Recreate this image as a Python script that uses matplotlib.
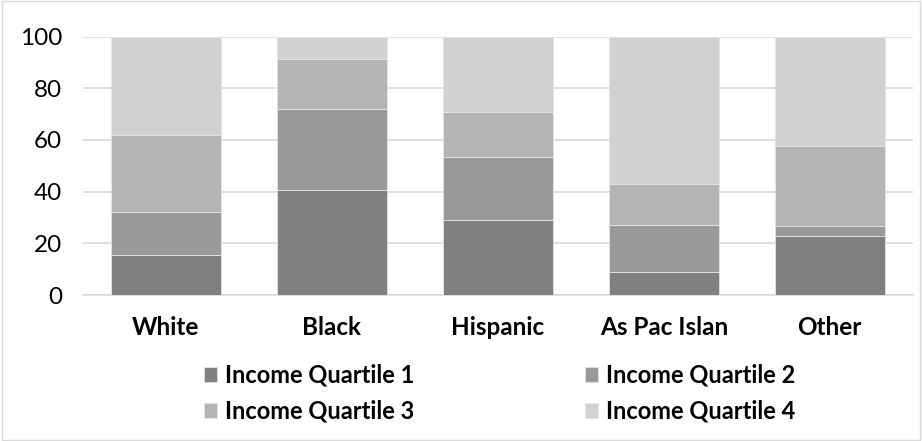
import matplotlib
matplotlib.use("Agg")
import matplotlib.pyplot as plt
import numpy as np

categories = ["White", "Black", "Hispanic", "As Pac Islan", "Other"]
series_names = ["Income Quartile 1", "Income Quartile 2", "Income Quartile 3", "Income Quartile 4"]
q1 = [15.5, 40.6, 29.0, 8.9, 22.8]
q2 = [16.8, 31.3, 24.5, 18.2, 3.9]
q3 = [29.6, 19.6, 17.5, 15.9, 31.0]
q4 = [38.1, 8.5, 29.0, 57.0, 42.3]
yticks = [0, 20, 40, 60, 80, 100]

colors = ["#808080", "#999999", "#b4b4b4", "#d1d1d1"]

plt.rcParams["font.family"] = ["Lato", "DejaVu Sans"]

fig = plt.figure(figsize=(9.22, 4.41), dpi=100)
fig.patch.set_facecolor("white")
ax = fig.add_axes([0.09, 0.331, 0.90, 0.586])

x = np.arange(len(categories))
bottom = np.zeros(len(categories))
handles = []
for vals, name, c in zip([q1, q2, q3, q4], series_names, colors):
    h = ax.bar(x, vals, width=0.66, bottom=bottom, color=c, edgecolor="#e4e4e4",
               linewidth=0.6, label=name, zorder=3)
    handles.append(h)
    bottom += np.array(vals)

ax.set_xlim(-0.5, len(categories) - 0.5)
ax.set_ylim(0, 100)
ax.set_yticks(yticks)
ax.set_yticklabels([str(t) for t in yticks], fontsize=17.5)
ax.set_xticks(x)
ax.set_xticklabels(categories, fontsize=17.5, fontweight="bold")
ax.tick_params(axis="both", length=0, colors="black")
ax.tick_params(axis="y", pad=15)
ax.tick_params(axis="x", pad=15)
ax.yaxis.grid(True, color="#d9d9d9", linewidth=1.2, zorder=0)
for s in ["top", "right", "left"]:
    ax.spines[s].set_visible(False)
ax.spines["bottom"].set_color("#d9d9d9")
ax.spines["bottom"].set_linewidth(1.2)

# legend: quartiles 1,2 on first row, 3,4 on second
order = [0, 2, 1, 3]
leg = fig.legend([handles[i] for i in order], [series_names[i] for i in order],
                 ncol=2, loc="center", bbox_to_anchor=(0.542, 0.108), frameon=False,
                 prop={"size": 17, "weight": "bold"}, handlelength=0.55,
                 handleheight=0.55, handletextpad=0.35, columnspacing=7.2,
                 labelspacing=0.55, borderpad=0.2)

# light frame around the whole chart
fig.add_artist(plt.Rectangle((0.002, 0.003), 0.996, 0.994, transform=fig.transFigure,
                             fill=False, edgecolor="#d9d9d9", linewidth=1.0))

fig.savefig("out.png", dpi=100, facecolor="white")
